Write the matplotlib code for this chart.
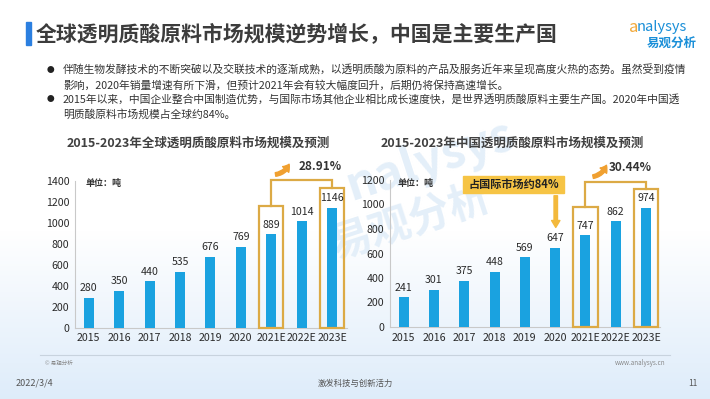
import numpy as np
import matplotlib
matplotlib.use("Agg")
import matplotlib.pyplot as plt
from matplotlib.patches import Rectangle, FancyArrowPatch

plt.rcParams['font.family'] = ['Noto Sans CJK SC', 'DejaVu Sans']

# ---------------- data ----------------
years = ["2015", "2016", "2017", "2018", "2019", "2020", "2021E", "2022E", "2023E"]
global_vals = [280, 350, 440, 535, 676, 769, 889, 1014, 1146]
china_vals = [241, 301, 375, 448, 569, 647, 747, 862, 974]
global_yticks = [0, 200, 400, 600, 800, 1000, 1200, 1400]
china_yticks = [0, 200, 400, 600, 800, 1000, 1200]
global_growth = "28.91%"
china_growth = "30.44%"

title = "全球透明质酸原料市场规模逆势增长，中国是主要生产国"
bullets = [
    ("伴随生物发酵技术的不断突破以及交联技术的逐渐成熟，以透明质酸为原料的产品及服务近年来呈现高度火热的态势。虽然受到疫情",
     "影响，2020年销量增速有所下滑，但预计2021年会有较大幅度回升，后期仍将保持高速增长。"),
    ("2015年以来，中国企业整合中国制造优势，与国际市场其他企业相比成长速度快，是世界透明质酸原料主要生产国。2020年中国透",
     "明质酸原料市场规模占全球约84%。"),
]
left_title = "2015-2023年全球透明质酸原料市场规模及预测"
right_title = "2015-2023年中国透明质酸原料市场规模及预测"
callout = "占国际市场约84%"

W, H = 710, 399
fig = plt.figure(figsize=(W / 100, H / 100), dpi=100)

BLUE = "#1aa2e0"
GOLD = "#dcaa45"
DARK = "#333333"


def px_axes(x0, x1, ytop, ybot, **kw):
    return fig.add_axes([x0 / W, 1 - ybot / H, (x1 - x0) / W, (ybot - ytop) / H], **kw)


# ---------------- background ----------------
bg = fig.add_axes([0, 0, 1, 1], zorder=-10)
bg.set_xlim(0, W)
bg.set_ylim(H, 0)
bg.axis("off")
grad = np.ones((H, 1, 4))
t = np.clip((np.arange(H) - 230) / (H - 230), 0, 1)
c0 = np.array([1.0, 1.0, 1.0])
c1 = np.array([0.87, 0.925, 0.98])
for i in range(H):
    grad[i, 0, :3] = c0 * (1 - t[i]) + c1 * t[i]
bg.imshow(grad, extent=[0, W, H, 0], aspect="auto", zorder=-10)
# watermark
bg.text(430, 160, "nalysys", fontsize=34, color="#e4eff9", fontstyle="italic",
        fontweight="bold", rotation=18, ha="center", va="center", zorder=-5)
bg.text(410, 222, "易观分析", fontsize=30, color="#e4eff9", fontweight="bold",
        rotation=18, ha="center", va="center", zorder=-5)

# header
bg.add_patch(Rectangle((26, 22), 5, 23, color="#2b7fe0", zorder=2))
bg.text(36, 33.5, title, fontsize=15, fontweight="bold", color="#3c3c3c",
        ha="left", va="center")
bg.text(629, 27, "a", fontsize=12, color="#f2a93b", fontstyle="italic",
        ha="left", va="center")
bg.text(637, 27, "nalysys", fontsize=10.5, color="#1a8fd8", fontstyle="italic",
        ha="left", va="center")
bg.text(697, 43, "易观分析", fontsize=9, color="#1a8fd8", fontweight="bold",
        ha="right", va="center")

line_y = [70, 85, 99.5, 114.5]
k = 0
for b in bullets:
    bg.text(50, line_y[k], "●", fontsize=5.5, color="#222222", ha="center", va="center")
    for ln in b:
        bg.text(63, line_y[k], ln, fontsize=7.75, color=DARK, ha="left", va="center")
        k += 1

# footer
bg.plot([40, 670], [355, 355], color="#c8d3de", lw=0.8)
bg.text(45, 363, "© 易观分析", fontsize=4, color="#888888", ha="left", va="center")
bg.text(665, 363, "www.analysys.cn", fontsize=4.5, color="#888888", ha="right", va="center")
bg.text(16, 383, "2022/3/4", fontsize=6.5, color="#555555", ha="left", va="center")
bg.text(355, 383, "激发科技与创新活力", fontsize=6, color="#555555", ha="center", va="center")
bg.text(693, 383, "11", fontsize=6, color="#555555", ha="center", va="center")

# chart titles
bg.text(198, 143, left_title, fontsize=9, fontweight="bold", color="#404040",
        ha="center", va="center")
bg.text(512, 143, right_title, fontsize=9, fontweight="bold", color="#404040",
        ha="center", va="center")


def style_axes(ax, yticks):
    ax.set_facecolor("none")
    for s in ["top", "right"]:
        ax.spines[s].set_visible(False)
    for s in ["left", "bottom"]:
        ax.spines[s].set_color("#c9c9c9")
        ax.spines[s].set_linewidth(0.8)
    ax.set_yticks(yticks)
    ax.set_ylim(yticks[0], yticks[-1])
    ax.tick_params(length=0, labelsize=7.6, labelcolor="#2a2a2a", pad=4)


def draw_chart(ax, vals, yticks, xmax, unit_xy):
    x = np.arange(len(years))
    ax.bar(x, vals, width=0.33, color=BLUE, zorder=3)
    for xi, v in zip(x, vals):
        ax.annotate(f"{v}", (xi, v), xytext=(0, 7), textcoords="offset points",
                    ha="center", va="center", fontsize=7.6, color="#2a2a2a", zorder=5)
    ax.set_xticks(x)
    ax.set_xticklabels(years)
    style_axes(ax, yticks)
    ax.set_xlim(-0.45, xmax)
    ax.text(unit_xy[0], unit_xy[1], "单位：吨", fontsize=6.5, fontweight="bold",
            color=DARK, ha="left", va="center")


def draw_growth(ax, box1_top, box2_top, bracket_y, arr_start, arr_end, txt_xy, txt):
    ax.add_patch(Rectangle((5.6, 0), 0.8, box1_top, fill=False, ec=GOLD, lw=1.6,
                           clip_on=False, zorder=4))
    ax.add_patch(Rectangle((7.6, 0), 0.8, box2_top, fill=False, ec=GOLD, lw=1.6,
                           clip_on=False, zorder=4))
    ax.plot([6, 6, 8, 8], [box1_top, bracket_y, bracket_y, box2_top], color=GOLD,
            lw=1.6, clip_on=False, zorder=4, solid_joinstyle="miter")
    arr = FancyArrowPatch(arr_start, arr_end, connectionstyle="arc3,rad=0.35",
                          arrowstyle="simple,head_width=6,head_length=4.5,tail_width=2.6",
                          color="#f0a030", clip_on=False, zorder=5)
    ax.add_patch(arr)
    ax.text(txt_xy[0], txt_xy[1], txt, fontsize=8.5, fontweight="bold", color=DARK,
            ha="left", va="center", clip_on=False)


# left chart
axL = px_axes(75, 347, 181, 327.5)
draw_chart(axL, global_vals, global_yticks, 8.49, (-0.1, 1380))
draw_growth(axL, 1161, 1333, 1410, (6.05, 1460), (6.62, 1585), (6.9, 1537), global_growth)

# right chart
axR = px_axes(390, 660, 180, 327)
draw_chart(axR, china_vals, china_yticks, 8.46, (-0.2, 1175))
draw_growth(axR, 980, 1127, 1184, (6.16, 1224), (6.72, 1342), (6.78, 1298), china_growth)

# callout on right chart
axR.add_patch(Rectangle((1.97, 1094), 5.28 - 1.97, 1233 - 1094, color="#f6c445",
                        clip_on=False, zorder=5))
axR.text((1.97 + 5.28) / 2, 1163, callout, fontsize=8, fontweight="bold",
         color="#222222", ha="center", va="center", zorder=6)
axR.add_patch(FancyArrowPatch((5.02, 1094), (5.02, 790),
                              arrowstyle="simple,head_width=6,head_length=5,tail_width=2.5",
                              color="#f3b93c", zorder=5, clip_on=False))

fig.savefig("out.png", dpi=100)
